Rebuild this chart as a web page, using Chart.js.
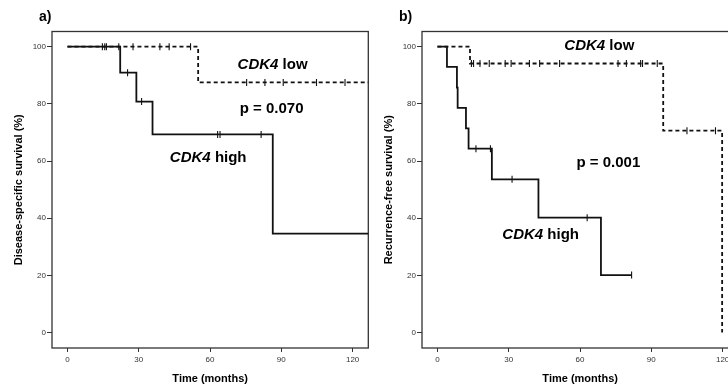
<!DOCTYPE html>
<html><head><meta charset="utf-8">
<script src="https://cdn.jsdelivr.net/npm/chart.js@4/dist/chart.umd.min.js"></script>
<style>
html,body{margin:0;padding:0;background:#fff;overflow:hidden;width:728px;height:389px;}
#wrap{position:relative;width:728px;height:389px;overflow:hidden;}
.p{position:absolute;top:0;width:375px;height:389px;}
#pa{left:0}#pb{left:370px}
</style></head><body>
<div id="wrap"><div class="p" id="pa"><canvas id="ca" width="375" height="389"></canvas></div><div class="p" id="pb"><canvas id="cb" width="375" height="389"></canvas></div></div>
<script>
// ---- data ----
const xTicks = [0, 30, 60, 90, 120];
const yTicks = [0, 20, 40, 60, 80, 100];

// panel a: disease-specific survival
const aHighTime = [0, 22.2, 29, 35.8, 86.4, 127];
const aHighSurv = [100, 90.9, 80.8, 69.3, 34.6, 34.6];
const aHighCensored = [14.7, 15.7, 16.4, 21.6, 25.3, 31.2, 63.2, 64.2, 81.5];
const aLowTime = [0, 55, 127];
const aLowSurv = [100, 87.5, 87.5];
const aLowCensored = [27.6, 38.9, 42.8, 51.8, 75.4, 83.1, 90.8, 104.8, 116.8];

// panel b: recurrence-free survival
const bHighTime = [0, 4, 8.2, 8.5, 12, 13.1, 22.9, 42.5, 68.8, 81.7];
const bHighSurv = [100, 92.9, 85.7, 78.6, 71.4, 64.3, 53.6, 40.2, 20.1, 20.1];
const bHighCensored = [16.2, 22.3, 31.4, 63, 81.7];
const bLowTime = [0, 13.7, 95, 119.8];
const bLowSurv = [100, 94.1, 70.6, 0];
const bLowCensored = [14.3, 15.2, 17.9, 21.8, 28.5, 31.0, 38.7, 43.0, 51.4, 76.0, 79.5, 85.5, 86.3, 92.5, 105, 117];

// ---- helpers ----
const FONT = "'Liberation Sans', Arial, sans-serif";
const INK = '#111';
function survAt(times, surv, t) {
  let s = surv[0];
  for (let i = 0; i < times.length; i++) if (times[i] <= t) s = surv[i];
  return s;
}
function curve(times, surv, dashed) {
  return {
    data: times.map((t, i) => ({x: t, y: surv[i]})),
    stepped: true, borderColor: INK, borderWidth: 1.8,
    borderDash: dashed ? [4, 3] : [], pointRadius: 0, fill: false
  };
}
function marks(cens, times, surv) {
  return {
    data: cens.map(t => ({x: t, y: survAt(times, surv, t)})),
    showLine: false, pointStyle: 'line', rotation: 90, pointRadius: 3.5,
    borderColor: INK, pointBorderColor: INK, pointBorderWidth: 1.1, borderWidth: 1.1
  };
}
function noPad(s) { s.paddingLeft = 0; s.paddingRight = 0; s.paddingTop = 0; s.paddingBottom = 0; }

const framePlugin = {
  id: 'frame',
  beforeDatasetsDraw(chart) {
    const {ctx, chartArea: a} = chart;
    ctx.save();
    ctx.strokeStyle = '#333'; ctx.lineWidth = 1.3;
    ctx.strokeRect(a.left, a.top, a.right - a.left, a.bottom - a.top);
    ctx.restore();
  },
  afterDraw(chart, args, opts) {
    const {ctx} = chart;
    const xs = chart.scales.x, ys = chart.scales.y;
    ctx.save();
    ctx.fillStyle = '#000';
    ctx.textBaseline = 'middle';
    ctx.textAlign = 'left';
    ctx.font = 'bold 14px ' + FONT;
    ctx.fillText(opts.label, opts.labelX, opts.labelY);
    opts.notes.forEach(n => {
      let x = xs.getPixelForValue(n.t);
      const y = ys.getPixelForValue(n.s);
      if (n.italic) {
        ctx.font = 'italic bold 15px ' + FONT;
        ctx.fillText(n.italic, x, y);
        x += ctx.measureText(n.italic).width;
      }
      ctx.font = 'bold 15px ' + FONT;
      ctx.fillText(n.text, x, y);
    });
    ctx.restore();
  }
};

function makeChart(id, datasets, yTitle, frameOpts) {
  return new Chart(document.getElementById(id), {
    type: 'line',
    data: {datasets},
    plugins: [framePlugin],
    options: {
      responsive: false, animation: false, devicePixelRatio: 1,
      layout: {padding: {top: 31.5, right: 6.7, left: 0, bottom: 0}},
      plugins: {legend: {display: false}, tooltip: {enabled: false}, frame: frameOpts},
      scales: {
        x: {
          type: 'linear', min: -6.5, max: 126.6,
          afterBuildTicks: s => { s.ticks = xTicks.map(v => ({value: v})); },
          afterFit: s => { s.height = 41; noPad(s); },
          grid: {drawOnChartArea: false, drawTicks: true, tickLength: 4, color: '#333', lineWidth: 1},
          border: {display: false},
          ticks: {font: {size: 8, family: FONT}, color: '#333', padding: 2.5, maxRotation: 0},
          title: {display: true, text: 'Time (months)', color: '#000',
                  font: {size: 11, weight: 'bold', family: FONT}, padding: {top: 0, bottom: 3.4}}
        },
        y: {
          type: 'linear', min: -5.4, max: 105.3,
          afterBuildTicks: s => { s.ticks = yTicks.map(v => ({value: v})); },
          afterFit: s => { s.width = 52; noPad(s); },
          grid: {drawOnChartArea: false, drawTicks: true, tickLength: 5, color: '#333', lineWidth: 1},
          border: {display: false},
          ticks: {font: {size: 8, family: FONT}, color: '#333', padding: 1},
          title: {display: true, text: yTitle, color: '#000',
                  font: {size: 11, weight: 'bold', family: FONT}, padding: {top: 12.4, bottom: 0}}
        }
      }
    }
  });
}

makeChart('ca', [
  curve(aHighTime, aHighSurv, false),
  marks(aHighCensored, aHighTime, aHighSurv),
  curve(aLowTime, aLowSurv, true),
  marks(aLowCensored, aLowTime, aLowSurv)
], 'Disease-specific survival (%)', {
  label: 'a)', labelX: 39, labelY: 17.5,
  notes: [
    {t: 71.6, s: 93.6, italic: 'CDK4', text: ' low'},
    {t: 72.5, s: 78.2, text: 'p = 0.070'},
    {t: 43.1, s: 61.1, italic: 'CDK4', text: ' high'}
  ]
});

makeChart('cb', [
  curve(bHighTime, bHighSurv, false),
  marks(bHighCensored, bHighTime, bHighSurv),
  curve(bLowTime, bLowSurv, true),
  marks(bLowCensored, bLowTime, bLowSurv)
], 'Recurrence-free survival (%)', {
  label: 'b)', labelX: 29, labelY: 17.5,
  notes: [
    {t: 53.4, s: 100.2, italic: 'CDK4', text: ' low'},
    {t: 58.5, s: 59.3, text: 'p = 0.001'},
    {t: 27.3, s: 34.2, italic: 'CDK4', text: ' high'}
  ]
});
</script>
</body></html>
